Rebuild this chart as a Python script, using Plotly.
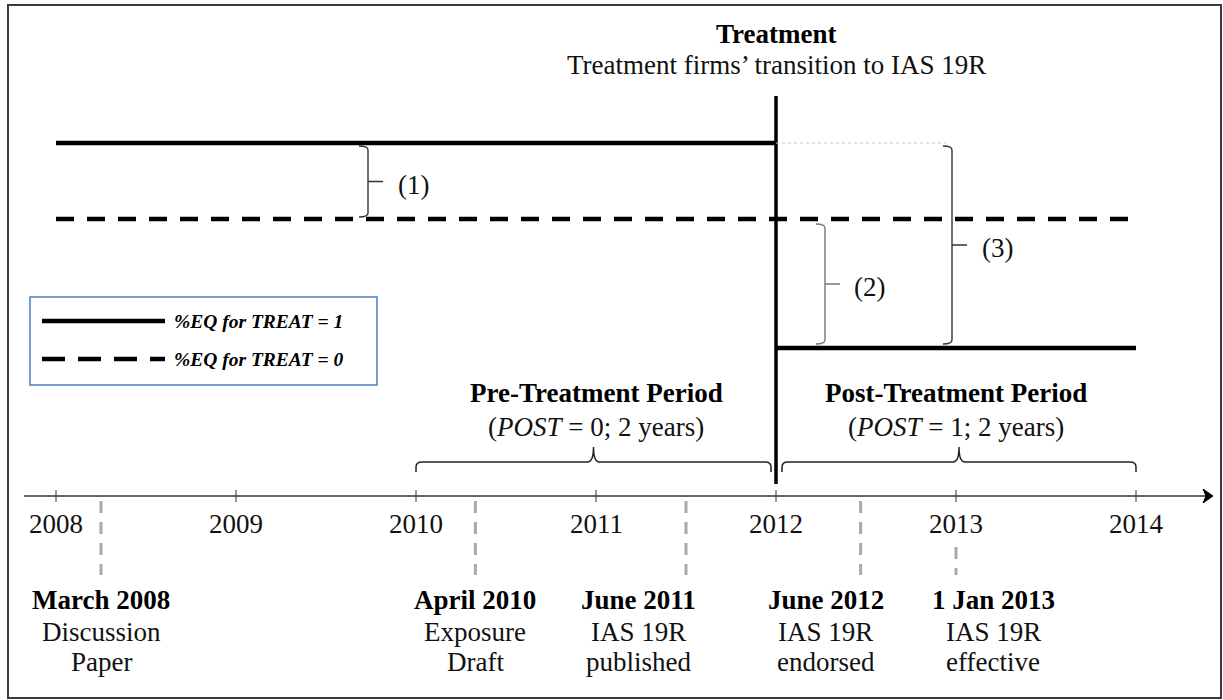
import plotly.graph_objects as go

# ---------------- data ----------------
years = [2008, 2009, 2010, 2011, 2012, 2013, 2014]
year_labels = [str(y) for y in years]

event_dates = [2008.25, 2010.33, 2011.5, 2012.47, 2013.0]
event_titles = ["March 2008", "April 2010", "June 2011", "June 2012", "1 Jan 2013"]
event_line2 = ["Discussion", "Exposure", "IAS 19R", "IAS 19R", "IAS 19R"]
event_line3 = ["Paper", "Draft", "published", "endorsed", "effective"]

treatment_year = 2012
period_start = 2008
period_end = 2014
pre_period = [2010, 2012]
post_period = [2012, 2014]

# schematic levels of %EQ (in screen rows, axis reversed)
eq_treat1_pre = 143
eq_treat1_post = 348
eq_treat0 = 219

# ---------------- layout helpers ----------------
W, H = 1223, 700
X0PX, YEARPX = 56.0, 180.0          # pixel of 2008 and pixels per year


def yr(px):
    """convert a pixel column into the year axis"""
    return period_start + (px - X0PX) / YEARPX


def dx(px):
    return px / YEARPX


FONT = "Liberation Serif"
FS = 27
AXIS_Y = 496

fig = go.Figure()

# main series
fig.add_trace(go.Scatter(
    x=[period_start, treatment_year, None, treatment_year, period_end],
    y=[eq_treat1_pre, eq_treat1_pre, None, eq_treat1_post, eq_treat1_post],
    mode="lines", line=dict(color="black", width=4.5), hoverinfo="skip"))
fig.add_trace(go.Scatter(
    x=[period_start, period_end], y=[eq_treat0, eq_treat0],
    mode="lines", line=dict(color="black", width=4.5, dash="18px,13px"),
    hoverinfo="skip"))
# treatment vertical line
fig.add_trace(go.Scatter(
    x=[treatment_year, treatment_year], y=[96, 484],
    mode="lines", line=dict(color="black", width=3.5), hoverinfo="skip"))

shapes = []
annotations = []

# frame
shapes.append(dict(type="rect", xref="paper", yref="paper",
                   x0=8 / W, x1=1221 / W, y0=1 - 698 / H, y1=1 - 5 / H,
                   line=dict(color="#3a3a3a", width=2)))

# dotted helper line from treatment level to bracket (3)
shapes.append(dict(type="line", x0=treatment_year, x1=yr(946),
                   y0=eq_treat1_pre, y1=eq_treat1_pre,
                   line=dict(color="#c8c8c8", width=1, dash="dot")))

# time axis
shapes.append(dict(type="line", x0=yr(24), x1=yr(1208), y0=AXIS_Y, y1=AXIS_Y,
                   line=dict(color="#333333", width=1.3)))
shapes.append(dict(type="path",
                   path=f"M {yr(1213)},{AXIS_Y} L {yr(1203)},{AXIS_Y-7} "
                        f"L {yr(1206)},{AXIS_Y} L {yr(1203)},{AXIS_Y+7} Z",
                   fillcolor="black", line=dict(color="black", width=1)))
for y, lab in zip(years, year_labels):
    shapes.append(dict(type="line", x0=y, x1=y, y0=AXIS_Y - 6, y1=AXIS_Y + 6,
                       line=dict(color="#333333", width=1)))
    annotations.append(dict(x=y, y=524, text=lab, showarrow=False,
                            xanchor="center", yanchor="middle",
                            font=dict(family=FONT, size=FS, color="#111")))

# events
label_offsets_px = [0, 0, -48, -35, 37]
for d, t, l2, l3, off in zip(event_dates, event_titles, event_line2, event_line3,
                             label_offsets_px):
    top = 547 if d == 2013.0 else 501
    shapes.append(dict(type="line", x0=d, x1=d, y0=top, y1=575,
                       line=dict(color="#aaaaaa", width=3, dash="12px,9px")))
    lx = d + dx(off)
    annotations.append(dict(x=lx, y=600, text=f"<b>{t}</b>", showarrow=False,
                            xanchor="center", yanchor="middle",
                            font=dict(family=FONT, size=FS, color="black")))
    annotations.append(dict(x=lx, y=632, text=l2, showarrow=False,
                            xanchor="center", yanchor="middle",
                            font=dict(family=FONT, size=FS, color="#111")))
    annotations.append(dict(x=lx, y=662, text=l3, showarrow=False,
                            xanchor="center", yanchor="middle",
                            font=dict(family=FONT, size=FS, color="#111")))


# horizontal curly braces over periods
def hbrace(x0, x1, y=462, end=472, tip=447, r=6):
    xm = (x0 + x1) / 2
    rr = dx(r)
    return (f"M {x0},{end} L {x0},{y+5} Q {x0},{y} {x0+rr},{y} "
            f"L {xm-rr},{y} Q {xm},{y} {xm},{tip} Q {xm},{y} {xm+rr},{y} "
            f"L {x1-rr},{y} Q {x1},{y} {x1},{y+5} L {x1},{end}")


shapes.append(dict(type="path", path=hbrace(pre_period[0], pre_period[1] - dx(5)),
                   line=dict(color="#222", width=1.5)))
shapes.append(dict(type="path", path=hbrace(post_period[0] + dx(6), post_period[1]),
                   line=dict(color="#222", width=1.5)))

annotations.append(dict(x=sum(pre_period) / 2, y=393,
                        text="<b>Pre-Treatment Period</b>", showarrow=False,
                        font=dict(family=FONT, size=FS, color="black")))
annotations.append(dict(x=sum(pre_period) / 2, y=427,
                        text="(<i>POST</i> = 0; 2 years)", showarrow=False,
                        font=dict(family=FONT, size=FS, color="#111")))
annotations.append(dict(x=sum(post_period) / 2, y=393,
                        text="<b>Post-Treatment Period</b>", showarrow=False,
                        font=dict(family=FONT, size=FS, color="black")))
annotations.append(dict(x=sum(post_period) / 2, y=427,
                        text="(<i>POST</i> = 1; 2 years)", showarrow=False,
                        font=dict(family=FONT, size=FS, color="#111")))

# treatment header
annotations.append(dict(x=treatment_year, y=34, text="<b>Treatment</b>",
                        showarrow=False,
                        font=dict(family=FONT, size=FS, color="black")))
annotations.append(dict(x=treatment_year, y=65,
                        text="Treatment firms’ transition to IAS 19R",
                        showarrow=False,
                        font=dict(family=FONT, size=FS, color="#111")))


# vertical brackets "}"
def vbrace(x, y0, y1, h=9, tip=15):
    ym = (y0 + y1) / 2
    hh = dx(h)
    return (f"M {x-hh},{y0} Q {x},{y0} {x},{y0+4} L {x},{y1-4} "
            f"Q {x},{y1} {x-hh},{y1} M {x},{ym} L {x+dx(tip)},{ym}")


brackets = [
    (yr(368), eq_treat1_pre + 3, eq_treat0 - 2, "(1)", yr(413), "#333"),
    (yr(825), eq_treat0 + 5, eq_treat1_post - 4, "(2)", yr(869), "#777"),
    (yr(952), eq_treat1_pre + 3, eq_treat1_post - 4, "(3)", yr(997), "#333"),
]
for bx, b0, b1, lab, lx, col in brackets:
    shapes.append(dict(type="path", path=vbrace(bx, b0, b1),
                       line=dict(color=col, width=1.4)))
    annotations.append(dict(x=lx, y=(b0 + b1) / 2 + 3, text=lab, showarrow=False,
                            font=dict(family=FONT, size=FS, color="#111")))

# legend box
shapes.append(dict(type="rect", x0=yr(30), x1=yr(377), y0=297, y1=385,
                   line=dict(color="#4a7ebb", width=1.5)))
shapes.append(dict(type="line", x0=yr(42), x1=yr(165), y0=321, y1=321,
                   line=dict(color="black", width=4.5)))
shapes.append(dict(type="line", x0=yr(42), x1=yr(165), y0=359, y1=359,
                   line=dict(color="black", width=4.5, dash="23px,13px")))
annotations.append(dict(x=yr(172), y=321, text="<b><i>%EQ for TREAT = 1</i></b>",
                        showarrow=False, xanchor="left",
                        font=dict(family=FONT, size=19.5, color="black")))
annotations.append(dict(x=yr(172), y=359, text="<b><i>%EQ for TREAT = 0</i></b>",
                        showarrow=False, xanchor="left",
                        font=dict(family=FONT, size=19.5, color="black")))

fig.update_layout(
    width=W, height=H, margin=dict(l=0, r=0, t=0, b=0),
    paper_bgcolor="white", plot_bgcolor="white", showlegend=False,
    xaxis=dict(range=[yr(0), yr(W)], visible=False, fixedrange=True),
    yaxis=dict(range=[H, 0], visible=False, fixedrange=True),
    shapes=shapes, annotations=annotations,
)

fig.write_html("out.html",
               config={"displayModeBar": False, "staticPlot": True},
               post_script="document.body.style.margin='0px';"
                           "document.body.style.overflow='hidden';")
